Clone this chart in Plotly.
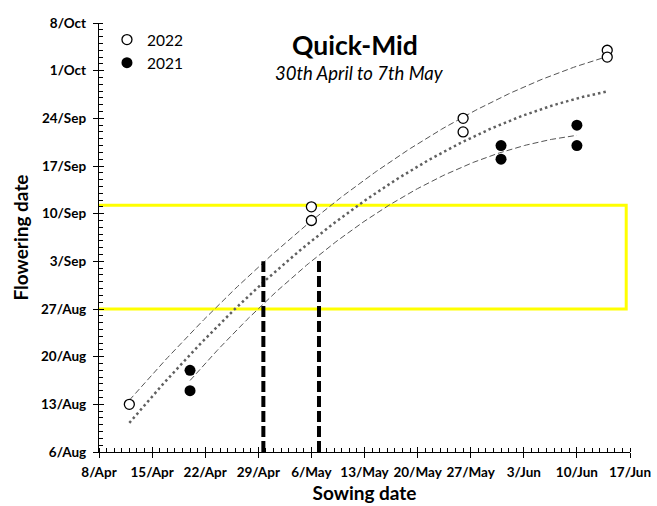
import numpy as np
import pandas as pd
import plotly.graph_objects as go

# ---------------- data (a common calendar year is used for the axes) ----------------
sow_2022 = ["2022-04-12", "2022-05-06", "2022-05-06", "2022-05-26", "2022-05-26", "2022-06-14", "2022-06-14"]
flw_2022 = ["2022-08-13", "2022-09-11", "2022-09-09", "2022-09-24", "2022-09-22", "2022-10-04", "2022-10-03"]

sow_2021 = ["2022-04-20", "2022-04-20", "2022-05-31", "2022-05-31", "2022-06-10", "2022-06-10"]
flw_2021 = ["2022-08-18", "2022-08-15", "2022-09-20", "2022-09-18", "2022-09-23", "2022-09-20"]

# optimum sowing window markers (vertical dashed lines)
window_sow = ["2022-04-29 16:00", "2022-05-07 00:00"]
window_top = ["2022-09-03 00:00", "2022-09-03 09:00"]

# target flowering band (yellow box)
band_x = ["2022-04-07 17:00", "2022-06-16 12:00"]
band_y = ["2022-08-27 00:00", "2022-09-11 06:00"]

x_range = ["2022-04-08", "2022-06-17"]
y_range = ["2022-08-06", "2022-10-08"]

title_text = "Quick-Mid"
subtitle_text = "30th April to 7th May"

# ---------------- helpers ----------------
ORIGIN = pd.Timestamp("2022-01-01")
DAY = pd.Timedelta(days=1)


def to_days(vals):
    return np.array([(pd.Timestamp(v) - ORIGIN) / DAY for v in vals])


def to_dates(days):
    return [ORIGIN + pd.Timedelta(days=float(d)) for d in days]


def quad_trend(xs, ys):
    xd, yd = to_days(xs), to_days(ys)
    coef = np.polyfit(xd, yd, 2)
    grid = np.linspace(xd.min(), xd.max(), 200)
    return to_dates(grid), to_dates(np.polyval(coef, grid))


FONT = "Lato"
fig = go.Figure()

# yellow band
fig.add_shape(type="rect", xref="x", yref="y",
              x0=band_x[0], x1=band_x[1], y0=band_y[0], y1=band_y[1],
              line=dict(color="#FFFF00", width=3), fillcolor="rgba(0,0,0,0)", layer="below")

# trend lines
tx, ty = quad_trend(sow_2022, flw_2022)
fig.add_trace(go.Scatter(x=tx, y=ty, mode="lines", showlegend=False, hoverinfo="skip",
                         line=dict(color="#555555", width=1, dash="6px,3px")))
tx, ty = quad_trend(sow_2021, flw_2021)
fig.add_trace(go.Scatter(x=tx, y=ty, mode="lines", showlegend=False, hoverinfo="skip",
                         line=dict(color="#555555", width=1, dash="6px,3px")))
tx, ty = quad_trend(sow_2022 + sow_2021, flw_2022 + flw_2021)
fig.add_trace(go.Scatter(x=tx, y=ty, mode="lines", showlegend=False, hoverinfo="skip",
                         line=dict(color="#606060", width=2.5, dash="2.5px,3px")))

# vertical window lines
for xv, yt in zip(window_sow, window_top):
    fig.add_trace(go.Scatter(x=[xv, xv], y=[y_range[0], yt], mode="lines", showlegend=False,
                             hoverinfo="skip", line=dict(color="black", width=4, dash="11px,4px")))

# data points
fig.add_trace(go.Scatter(x=sow_2022, y=flw_2022, mode="markers", name="2022",
                         marker=dict(symbol="circle", size=10, color="white",
                                     line=dict(color="black", width=1.3))))
fig.add_trace(go.Scatter(x=sow_2021, y=flw_2021, mode="markers", name="2021",
                         marker=dict(symbol="circle", size=11, color="black",
                                     line=dict(color="black", width=0))))

tickfont = dict(family=FONT, size=13.5, color="black", weight="bold")
WEEK = 7 * 24 * 3600 * 1000
ONE = 24 * 3600 * 1000

axis_common = dict(type="date", showgrid=False, zeroline=False, showline=True,
                   linecolor="black", linewidth=1.3, ticks="outside", ticklen=5,
                   tickwidth=1.3, tickcolor="black", dtick=WEEK, tickformat="%-d/%b",
                   tickfont=tickfont, automargin=False,
                   minor=dict(ticks="inside", ticklen=4, tickwidth=1, tickcolor="black",
                              dtick=ONE, showgrid=False))

fig.update_layout(
    width=657, height=506,
    margin=dict(l=99, r=27, t=23, b=54, autoexpand=False),
    paper_bgcolor="white", plot_bgcolor="white",
    font=dict(family=FONT, color="black"),
    xaxis=dict(range=x_range, tick0=x_range[0], ticklabelstandoff=3,
               title=dict(text="Sowing date", font=dict(family=FONT, size=19, weight="bold"), standoff=7),
               **axis_common),
    yaxis=dict(range=y_range, tick0=y_range[0], ticklabelstandoff=4,
               title=dict(text="Flowering date", font=dict(family=FONT, size=19, weight="bold"), standoff=7),
               **axis_common),
    # overlay axes to make the major ticks cross the axis line
    xaxis2=dict(type="date", overlaying="x", matches="x", anchor="y", side="bottom",
                showgrid=False, zeroline=False, showline=False, showticklabels=False,
                ticks="inside", ticklen=5, tickwidth=1.3, tickcolor="black",
                dtick=WEEK, tick0=x_range[0], range=x_range, automargin=False),
    yaxis2=dict(type="date", overlaying="y", matches="y", anchor="x", side="left",
                showgrid=False, zeroline=False, showline=False, showticklabels=False,
                ticks="inside", ticklen=5, tickwidth=1.3, tickcolor="black",
                dtick=WEEK, tick0=y_range[0], range=y_range, automargin=False),
    legend=dict(x=0.015, y=1.0, xanchor="left", yanchor="top", bgcolor="rgba(0,0,0,0)",
                font=dict(family=FONT, size=15.5, color="black"), tracegroupgap=0,
                itemwidth=30),
    annotations=[
        dict(text="<b>" + title_text + "</b>", xref="paper", yref="paper", x=0.483, y=0.949,
             xanchor="center", yanchor="middle", showarrow=False,
             font=dict(family=FONT, size=26.5, color="black")),
        dict(text="<i>" + subtitle_text + "</i>", xref="paper", yref="paper", x=0.49, y=0.884,
             xanchor="center", yanchor="middle", showarrow=False,
             font=dict(family=FONT, size=18.5, color="black")),
    ],
)

# invisible traces to activate the overlay axes
fig.add_trace(go.Scatter(x=[x_range[0]], y=[y_range[0]], xaxis="x2", yaxis="y2", mode="markers",
                         marker=dict(opacity=0), showlegend=False, hoverinfo="skip"))

fig.write_html("out.html")
